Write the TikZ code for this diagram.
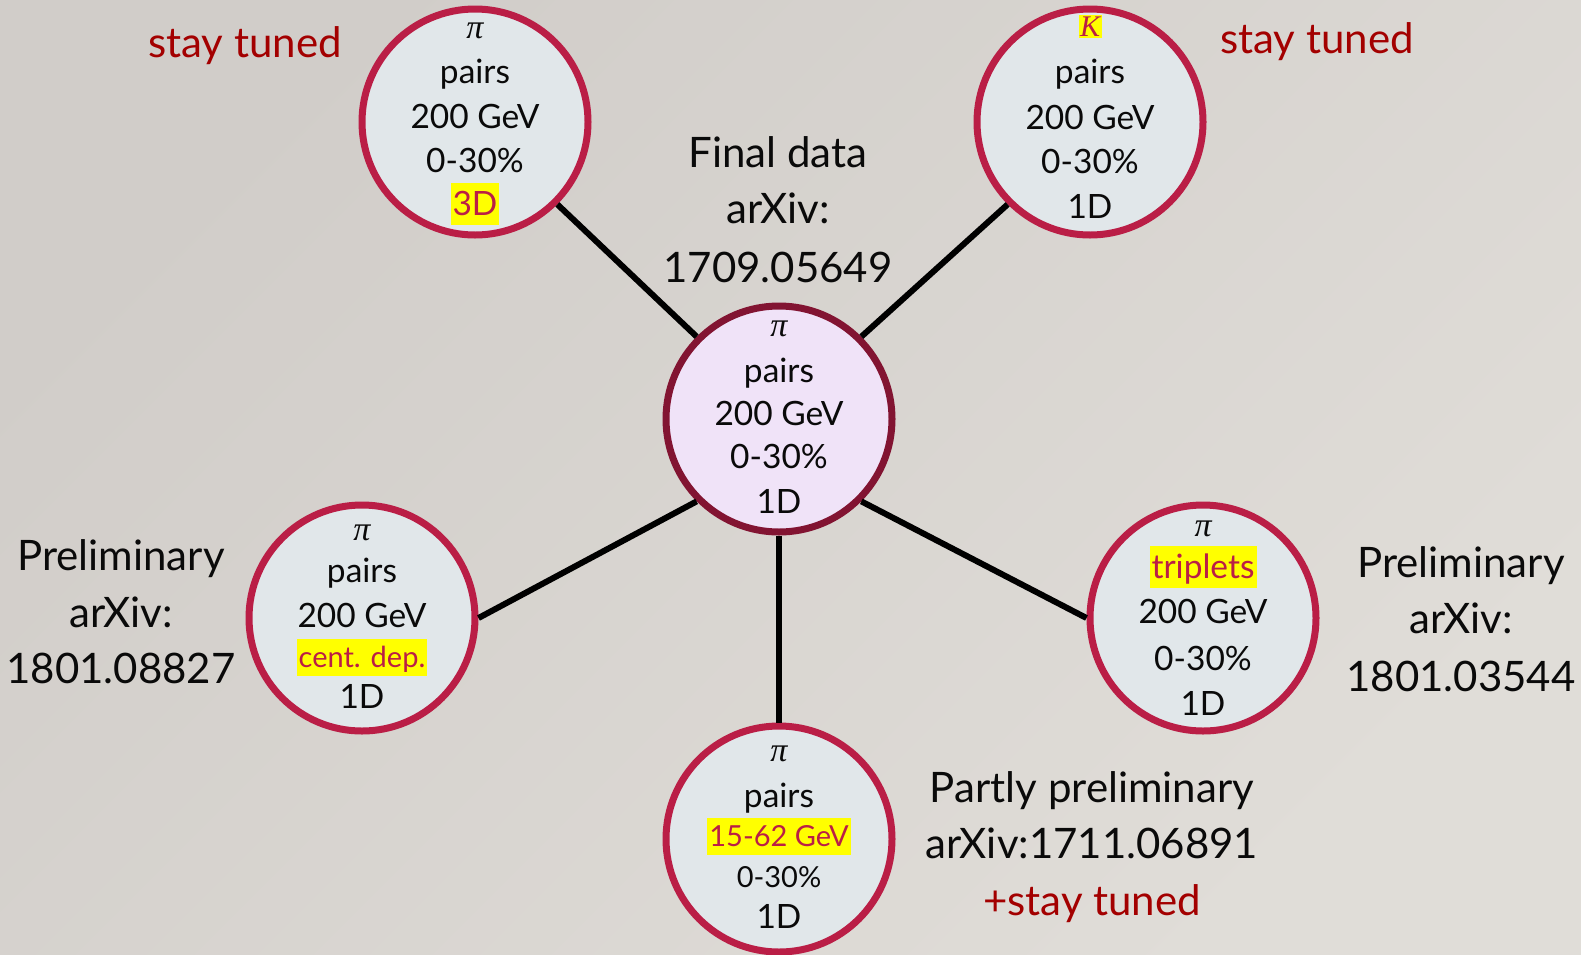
\documentclass[tikz,border=0pt]{standalone}
\usepackage{fontspec}
\setmainfont{Lato}
\newfontfamily\greekserif{Liberation Serif}

\definecolor{bgA}{HTML}{D1CDC9}
\definecolor{bgB}{HTML}{E0DDD8}
\definecolor{rim}{HTML}{BA1E46}
\definecolor{rimdark}{HTML}{821432}
\definecolor{bubblefill}{HTML}{E1E7EA}
\definecolor{hubfill}{HTML}{F0E3F8}
\definecolor{hlyellow}{HTML}{FFFF00}
\definecolor{tunedred}{HTML}{A30000}
\definecolor{ink}{HTML}{0A0A0A}

% yellow marker behind a word, word set in the rim colour
\newcommand\hlword[1]{{\setlength{\fboxsep}{0pt}\colorbox{hlyellow}{\hspace{2pt}\rule[-0.3em]{0pt}{1.25em}\textcolor{rim}{#1}\hspace{2pt}}}}
\newcommand\hlglyph[1]{{\setlength{\fboxsep}{1.5pt}\colorbox{hlyellow}{\textcolor{rim}{#1}}}}
% italic particle symbols
\newcommand\particle[1]{{\greekserif\itshape #1}}

% one base-anchored node per text line: name, x, {y/style/text, ...}
\newcommand\stacklines[3]{\foreach \yy/\st/\lt [count=\n] in {#3} {\node[\st] (#1-\n) at (#2,\yy) {\lt};}}

\tikzset{
  bubble/.style={circle, draw=rim, fill=bubblefill, line width=7pt, minimum size=226pt, inner sep=0pt},
  hub/.style={bubble, draw=rimdark, fill=hubfill},
  txt/.style={anchor=base, inner sep=0pt, text=ink, font=\fontsize{33.5pt}{40pt}\selectfont},
  txtsm/.style={txt, font=\fontsize{29pt}{34pt}\selectfont},
  glyph/.style={txt, font=\fontsize{34pt}{40pt}\selectfont},
  glyphsm/.style={txt, font=\fontsize{30pt}{34pt}\selectfont},
  biglabel/.style={anchor=base, inner sep=0pt, text=ink, font=\fontsize{42pt}{50pt}\selectfont},
  tuned/.style={biglabel, text=tunedred},
  link/.style={line width=6pt, draw=black},
}

\begin{document}
\begin{tikzpicture}[x=1pt, y=-1pt]
  \useasboundingbox (0,0) rectangle (1581,954);
  \shade[top color=bgA, bottom color=bgB, shading angle=45] (0,0) rectangle (1581,954);

  % circles
  \node[hub]    (main) at (779,419) {};
  \node[bubble] (tl)   at (475,122) {};
  \node[bubble] (tr)   at (1090,122) {};
  \node[bubble] (lc)   at (362,618) {};
  \node[bubble] (rc)   at (1203,618) {};
  \node[bubble] (bc)   at (779,839) {};

  % spokes
  \draw[link] (main.135) -- (tl.-45);
  \draw[link] (main.45)  -- (tr.-135);
  \draw[link] (main.-135) -- (lc.east);
  \draw[link] (main.-45)  -- (rc.west);
  \draw[link] (main.south) -- (bc.north);

  % circle contents
  \stacklines{main-t}{779}{336/glyph/\particle{π}, 382/txt/pairs, 425/txt/200 GeV, 468/txt/0-30\%, 513/txt/1D}
  \stacklines{tl-t}{475}{38/glyph/\particle{π}, 83/txt/pairs, 128/txt/200 GeV, 172/txt/0-30\%, 215/txt/\hlword{3D}}
  \stacklines{tr-t}{1090}{36/glyphsm/\hlglyph{\particle{K}}, 83/txt/pairs, 129/txt/200 GeV, 173/txt/0-30\%, 218/txt/1D}
  \stacklines{lc-t}{362}{540/glyph/\particle{π}, 582/txt/pairs, 627/txt/200 GeV, 667/txtsm/\hlword{cent. dep.}, 708/txt/1D}
  \stacklines{rc-t}{1203}{536/glyph/\particle{π}, 578/txt/\hlword{triplets}, 623/txt/200 GeV, 670/txt/0-30\%, 715/txt/1D}
  \stacklines{bc-t}{779}{761/glyph/\particle{π}, 807/txt/pairs, 846/txtsm/\hlword{15-62 GeV}, 887/txtsm/0-30\%, 928/txt/1D}

  % surrounding labels
  \node[tuned] (tuned-tl) at (245,57) {stay tuned};
  \node[tuned] (tuned-tr) at (1317,53) {stay tuned};
  \stacklines{final}{778}{167/biglabel/Final data, 223/biglabel/arXiv:, 282/biglabel/1709.05649}
  \stacklines{prelim-l}{121}{570/biglabel/Preliminary, 627/biglabel/arXiv:, 683/biglabel/1801.08827}
  \stacklines{prelim-r}{1461}{577/biglabel/Preliminary, 633/biglabel/arXiv:, 691/biglabel/1801.03544}
  \stacklines{partly}{1092}{802/biglabel/Partly preliminary, 858/biglabel/arXiv:1711.06891, 915/tuned/+stay tuned}
\end{tikzpicture}
\end{document}
